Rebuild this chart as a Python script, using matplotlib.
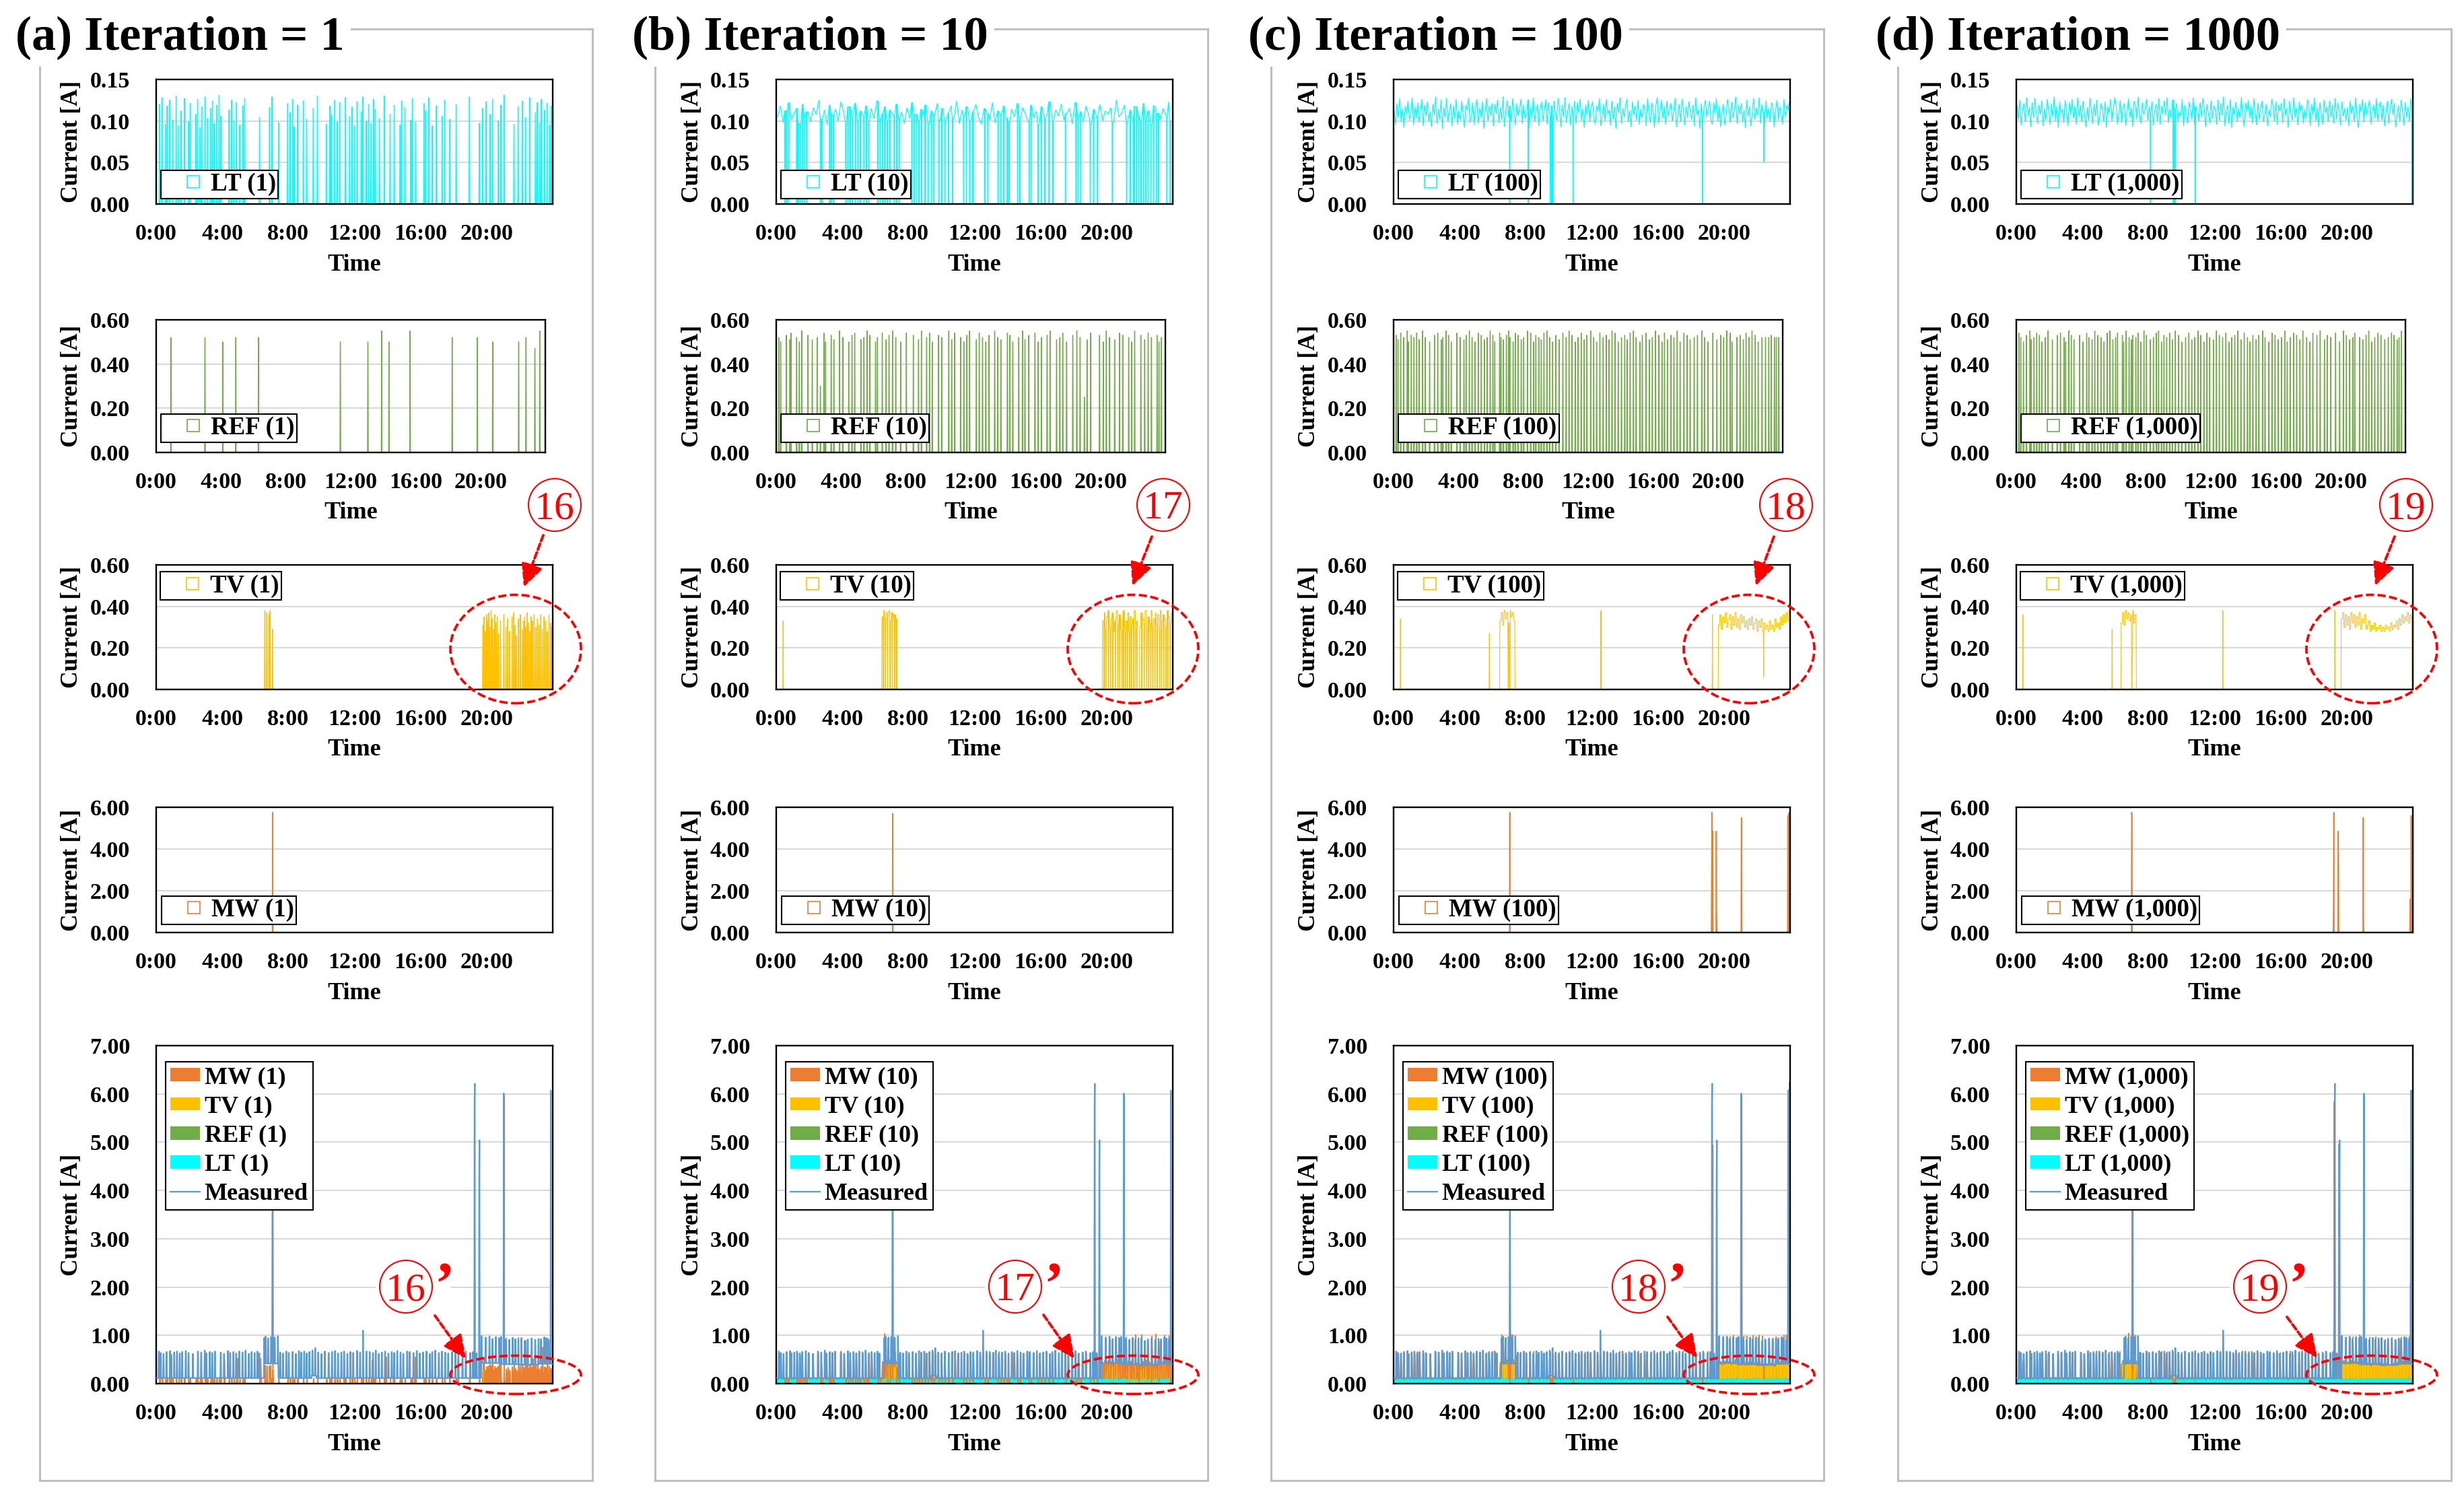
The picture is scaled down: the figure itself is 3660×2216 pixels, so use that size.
import numpy as np
import matplotlib
matplotlib.use("Agg")
import matplotlib.pyplot as plt
from matplotlib.patches import Rectangle, Ellipse, Patch, FancyArrowPatch
from matplotlib.lines import Line2D

plt.rcParams['font.family'] = ['Liberation Serif', 'DejaVu Serif']
plt.rcParams['font.weight'] = 'bold'

W, H = 3660, 2216

C_LT = '#00FFFF'
C_REF = '#70AD47'
C_TV = '#FFC000'
C_MW = '#ED7D31'
C_MEAS = '#5B9BD5'

# ---------------- data ----------------
# times are minutes of the day, currents in mA (LT) or 10 mA units (REF, TV, MW)
titles = ['(a) Iteration = 1', '(b) Iteration = 10', '(c) Iteration = 100', '(d) Iteration = 1000']
iters = ['1', '10', '100', '1,000']
marks = ['16', '17', '18', '19']
time_ticks = [0, 4, 8, 12, 16, 20]
time_labels = ['0:00', '4:00', '8:00', '12:00', '16:00', '20:00']

# LT (1): short on-pulses
lt1_min = [12, 21, 33, 39, 48, 60, 72, 81, 90, 102, 117, 123, 144, 150, 159, 165, 177, 186, 198, 204,
           210, 219, 228, 234, 264, 273, 282, 291, 303, 315, 321, 375, 411, 420, 444, 477, 486, 495, 501, 513,
           534, 546, 570, 585, 618, 630, 636, 648, 657, 666, 687, 702, 711, 720, 729, 744, 750, 762, 771, 780,
           789, 795, 810, 828, 849, 864, 885, 891, 903, 924, 930, 942, 972, 978, 990, 1002, 1017, 1038, 1047, 1065,
           1089, 1137, 1173, 1185, 1197, 1212, 1221, 1242, 1251, 1263, 1299, 1314, 1329, 1341, 1356, 1377, 1383, 1392, 1398, 1410,
           1419, 1428, 1434]
lt1_mA = [120, 128, 96, 118, 125, 101, 130, 94, 112, 127, 99, 121, 108, 126, 92, 117, 129, 103, 115, 124,
          97, 119, 131, 106, 113, 125, 100, 122, 95, 118, 127, 104, 116, 129, 98, 121, 110, 126, 93, 119,
          124, 102, 115, 130, 96, 118, 107, 125, 99, 122, 128, 105, 117, 94, 123, 111, 129, 100, 120, 97,
          126, 114, 103, 130, 108, 119, 95, 124, 116, 101, 127, 99, 121, 112, 128, 94, 118, 106, 125, 102,
          120, 129, 97, 115, 123, 108, 126, 100, 119, 131, 96, 117, 124, 104, 128, 110, 122, 98, 126, 113,
          121, 95, 118]

# LT (10): 10-minute levels (mA) and drop-out minutes
lt10_lvl = [105, 118, 98, 112, 122, 101, 109, 115, 97, 120, 104, 111,
            99, 116, 108, 125, 102, 113, 96, 119, 107, 114, 100, 123,
            110, 97, 117, 104, 121, 99, 112, 106, 118, 95, 115, 103,
            124, 100, 109, 117, 98, 113, 106, 120, 101, 111, 97, 116,
            103, 122, 108, 99, 114, 105, 119, 96, 112, 107, 121, 100,
            115, 98, 110, 118, 102, 124, 97, 113, 106, 117, 99, 111,
            120, 104, 96, 115, 109, 101, 122, 98, 112, 107, 118, 103,
            97, 114, 105, 121, 100, 116, 108, 99, 119, 104, 112, 95,
            117, 102, 110, 123, 98, 113, 106, 120, 101, 109, 115, 97,
            122, 104, 111, 99, 118, 107, 96, 114, 103, 120, 100, 112,
            108, 116, 98, 125, 105, 110, 119, 97, 113, 102, 117, 106,
            99, 121, 104, 112, 96, 118, 109, 101, 115, 107, 123, 100]
lt10_dips = [31, 38, 45, 74, 80, 88, 95, 103, 110, 160, 166, 193, 200, 207, 252, 260, 268, 276, 287, 296,
             305, 318, 327, 335, 368, 377, 386, 394, 403, 412, 428, 437, 446, 492, 500, 509, 518, 527, 540, 551,
             563, 572, 590, 601, 612, 625, 640, 680, 690, 702, 714, 757, 768, 805, 815, 826, 838, 845, 876, 884,
             918, 925, 950, 962, 975, 990, 1004, 1050, 1088, 1096, 1105, 1140, 1152, 1165, 1220, 1272, 1285, 1296,
             1300, 1308, 1316, 1324, 1333, 1341, 1350, 1360, 1370, 1380, 1388, 1418, 1430]

# LT (100/1000): 5-minute levels (mA) and drop-outs (start, minutes, mA)
lt100_lvl = [112, 96, 121, 104, 127, 99, 115, 92, 118, 108, 124, 101,
             109, 128, 95, 117, 103, 122, 98, 113, 126, 94, 119, 106,
             123, 100, 111, 93, 120, 107, 129, 97, 114, 102, 125, 91,
             116, 105, 127, 99, 110, 121, 94, 118, 103, 126, 96, 112,
             101, 124, 108, 92, 119, 113, 128, 98, 106, 122, 95, 117,
             126, 97, 115, 104, 123, 91, 111, 127, 100, 118, 107, 121,
             94, 120, 109, 125, 98, 116, 102, 129, 93, 112, 124, 105,
             118, 99, 127, 110, 95, 121, 106, 114, 126, 97, 119, 103,
             108, 125, 92, 117, 104, 128, 99, 111, 120, 94, 115, 123,
             100, 113, 126, 96, 122, 107, 118, 91, 124, 109, 101, 127,
             115, 93, 119, 105, 128, 98, 112, 121, 95, 117, 106, 124,
             97, 122, 110, 126, 101, 114, 92, 119, 108, 125, 99, 116,
             123, 104, 96, 118, 111, 127, 94, 106, 120, 100, 126, 109,
             113, 95, 124, 102, 117, 91, 121, 110, 128, 97, 115, 105,
             119, 126, 99, 112, 93, 123, 107, 118, 101, 125, 96, 114,
             104, 120, 116, 94, 127, 109, 98, 122, 113, 92, 119, 128,
             97, 111, 125, 103, 118, 96, 124, 106, 115, 121, 100, 112,
             127, 93, 108, 120, 99, 126, 114, 95, 117, 104, 123, 110,
             102, 119, 94, 128, 107, 113, 91, 121, 98, 116, 125, 105,
             114, 124, 101, 96, 122, 109, 127, 100, 118, 93, 111, 120,
             95, 107, 126, 115, 98, 123, 104, 112, 129, 97, 119, 108,
             121, 99, 113, 92, 125, 106, 117, 94, 110, 127, 102, 116,
             106, 128, 97, 120, 111, 93, 124, 103, 115, 99, 122, 118,
             92, 114, 125, 101, 117, 108, 96, 126, 105, 119, 112, 123]
lt100_dips = [(421, 2, 0), (489, 1, 0), (569, 3, 0), (574, 2, 0), (579, 1, 0), (652, 1, 0),
              (1122, 1, 0), (1344, 1, 50), (1437, 3, 0)]
lt1000_lvl = [118, 102, 125, 95, 113, 121, 99, 128, 106, 116, 93, 122,
              104, 127, 110, 97, 119, 108, 124, 94, 115, 101, 126, 112,
              96, 120, 105, 129, 100, 117, 92, 123, 109, 114, 98, 125,
              111, 94, 122, 107, 126, 103, 118, 96, 128, 105, 119, 99,
              124, 109, 93, 116, 101, 127, 112, 97, 120, 106, 125, 95,
              103, 121, 114, 99, 123, 92, 117, 110, 126, 100, 113, 128,
              119, 96, 107, 125, 98, 115, 121, 94, 111, 127, 104, 116,
              93, 124, 118, 102, 129, 106, 97, 122, 108, 114, 126, 101,
              117, 105, 123, 95, 112, 120, 100, 127, 96, 118, 109, 124,
              107, 128, 98, 114, 103, 125, 91, 116, 121, 99, 112, 106,
              126, 94, 119, 108, 97, 123, 113, 102, 128, 95, 117, 110,
              100, 122, 105, 127, 116, 93, 120, 109, 98, 124, 103, 118,
              114, 96, 125, 101, 121, 107, 129, 94, 112, 119, 97, 126,
              92, 117, 108, 123, 99, 115, 104, 128, 106, 93, 122, 111,
              125, 103, 118, 97, 127, 110, 95, 121, 102, 116, 124, 99,
              108, 120, 94, 113, 105, 126, 117, 100, 123, 96, 119, 112,
              121, 98, 127, 106, 115, 92, 124, 109, 101, 128, 104, 116,
              95, 123, 111, 119, 97, 114, 103, 126, 118, 94, 120, 107,
              128, 100, 116, 93, 122, 108, 96, 125, 110, 117, 99, 124,
              105, 119, 97, 127, 102, 121, 113, 95, 123, 106, 115, 101,
              116, 94, 124, 109, 118, 99, 128, 104, 92, 120, 111, 126,
              98, 122, 107, 115, 125, 96, 112, 119, 103, 127, 100, 117,
              123, 101, 119, 94, 110, 124, 97, 114, 126, 108, 121, 93,
              106, 118, 100, 125, 113, 95, 122, 104, 117, 99, 127, 111]
lt1000_dips = [(487, 1, 0), (569, 2, 0), (573, 3, 0), (578, 1, 0), (650, 1, 0), (1437, 3, 0)]

# REF (1)
ref1_min = [54, 180, 246, 294, 378, 681, 783, 834, 861, 939, 1095, 1188, 1245, 1341, 1368, 1401, 1419]
ref1_h = [52, 52, 50, 52, 52, 50, 50, 55, 50, 55, 52, 52, 50, 50, 52, 47, 55]

# fridge cycle starts (shared by REF 10/100/1000 and the measured current)
fridge_min = [9, 16, 26, 37, 50, 54, 65, 75, 85, 94, 107, 117, 133, 151, 163, 176, 182, 194, 203, 213,
              234, 246, 260, 268, 280, 290, 301, 313, 324, 336, 346, 357, 367, 374, 392, 397, 406, 417, 425, 430,
              442, 450, 460, 472, 481, 495, 507, 518, 526, 537, 546, 556, 567, 577, 588, 600, 612, 626, 638, 649,
              660, 672, 682, 694, 705, 715, 729, 740, 751, 763, 775, 787, 797, 808, 819, 831, 843, 855, 864, 875,
              887, 897, 911, 920, 934, 946, 957, 969, 981, 993, 1002, 1013, 1026, 1037, 1049, 1060, 1074, 1086, 1097, 1112,
              1124, 1140, 1150, 1163, 1181, 1196, 1210, 1221, 1233, 1245, 1252, 1270, 1282, 1294, 1304, 1315, 1326, 1338, 1349, 1363,
              1376, 1388, 1397, 1409, 1416, 1425]
ref10_h = [52, 50, 0, 53, 51, 54, 0, 52, 50, 55, 0, 53, 51, 52, 30, 54, 50, 0, 53, 51,
           55, 52, 0, 50, 53, 54, 0, 51, 52, 55, 53, 0, 50, 52, 54, 0, 51, 53, 0, 55,
           52, 0, 50, 0, 54, 0, 53, 0, 51, 55, 0, 52, 54, 50, 0, 53, 52, 0, 55, 51,
           54, 0, 52, 50, 53, 55, 0, 51, 54, 52, 50, 53, 0, 55, 52, 51, 0, 54, 53, 50,
           0, 52, 55, 51, 53, 0, 54, 50, 52, 0, 53, 55, 0, 51, 52, 54, 50, 0, 53, 55,
           52, 25, 51, 54, 0, 53, 50, 55, 52, 0, 51, 54, 53, 0, 52, 50, 55, 0, 53, 51,
           54, 52, 0, 53, 50, 52]
ref100_h = [53, 51, 54, 52, 55, 50, 53, 52, 54, 51, 55, 52, 50, 53, 54, 51, 52, 55, 53, 50,
            54, 52, 51, 53, 55, 52, 50, 54, 53, 51, 52, 55, 53, 50, 54, 52, 51, 53, 55, 52,
            50, 54, 53, 51, 52, 55, 54, 50, 53, 52, 51, 54, 55, 52, 50, 53, 51, 54, 52, 55,
            53, 50, 52, 54, 51, 53, 55, 52, 50, 54, 52, 53, 51, 55, 54, 50, 52, 53, 51, 54,
            55, 52, 50, 53, 54, 51, 52, 55, 53, 50, 54, 51, 53, 52, 55, 50, 54, 53, 51, 52,
            53, 55, 52, 50, 54, 51, 53, 52, 55, 54, 50, 52, 53, 51, 54, 52, 55, 53, 50, 52,
            52, 52, 53, 52, 52, 52]
ref1000_h = [54, 52, 50, 53, 55, 51, 52, 54, 53, 50, 52, 55, 51, 53, 54, 52, 50, 55, 53, 51,
             53, 50, 54, 52, 51, 55, 53, 52, 50, 54, 55, 51, 52, 54, 53, 50, 55, 52, 51, 53,
             52, 54, 50, 55, 53, 51, 52, 54, 55, 50, 53, 52, 54, 51, 55, 53, 50, 52, 54, 51,
             52, 55, 53, 50, 54, 52, 51, 55, 53, 52, 54, 50, 52, 53, 55, 51, 54, 52, 50, 53,
             51, 53, 55, 52, 50, 54, 53, 51, 52, 55, 50, 52, 54, 53, 51, 55, 52, 50, 54, 53,
             55, 51, 53, 52, 54, 50, 55, 53, 51, 52, 54, 52, 51, 53, 55, 50, 52, 54, 53, 51,
             52, 54, 53, 51, 52, 55]

# TV (1): short pulses
tv1_min = [394, 401, 409, 413, 422,
           1186, 1190, 1195, 1200, 1203, 1207, 1211, 1216, 1220, 1225, 1229, 1233, 1238, 1243, 1250, 1262,
           1270, 1276, 1283, 1292, 1298, 1303, 1308, 1315, 1322, 1329, 1334, 1338, 1342, 1347, 1351, 1356,
           1361, 1366, 1372, 1378, 1384, 1390, 1396, 1402, 1408, 1414, 1420, 1426, 1432, 1437]
tv1_h = [38, 37, 36, 38, 29,
         31, 35, 28, 36, 33, 37, 30, 38, 34, 29, 36, 32, 35, 27, 33, 36, 30, 34, 28, 35,
         37, 31, 26, 34, 36, 29, 33, 35, 30, 37, 32, 28, 35, 33, 36, 30, 34, 31, 36, 29,
         35, 33, 28, 36, 32, 30]

# TV (10/100/1000): single pulses, 5-minute level blocks, drop-outs (start, minutes, level)
tv10_spk = [(25, 33)]
tv10_blocks = [(384, [35, 38, 34, 37, 36, 38, 33, 37, 35, 36, 34]),
               (1185, [33, 37, 29, 35, 38, 30, 34, 37, 28, 33, 38, 31, 36, 29, 34, 38, 30, 33, 37, 28,
                       35, 31, 34, 38, 29, 33, 36, 30, 37, 34, 31, 38, 29, 35, 32, 38, 30, 34, 37, 31,
                       36, 29, 38, 33, 36, 34, 30, 38, 35, 32, 37])]
tv10_drops = [(388, 2, 0), (396, 2, 0), (404, 2, 0), (413, 2, 0), (421, 2, 0), (430, 2, 0), (436, 2, 0),
              (1190, 2, 0), (1197, 2, 0), (1206, 2, 0), (1214, 2, 0), (1222, 2, 0), (1231, 2, 0), (1240, 2, 0),
              (1247, 2, 0), (1255, 2, 0), (1261, 2, 0), (1268, 2, 0), (1275, 2, 0), (1283, 2, 0), (1290, 2, 0),
              (1298, 2, 0), (1306, 2, 0), (1312, 8, 0), (1327, 2, 0), (1336, 2, 0), (1345, 2, 0), (1352, 2, 0),
              (1360, 2, 0), (1367, 2, 0), (1375, 2, 0), (1383, 2, 0), (1392, 2, 0), (1399, 2, 0), (1407, 2, 0),
              (1415, 2, 0), (1422, 2, 0), (1430, 2, 0)]
tv100_spk = [(25, 34), (348, 27), (753, 38), (1158, 36)]
tv100_blocks = [(386, [33, 37, 31, 38, 34, 37, 32, 38, 35, 37, 33]),
                (1180, [31, 36, 29, 35, 32, 37, 30, 34, 36, 29, 35, 31, 37, 30, 34, 29, 36, 32, 35, 30,
                        33, 29, 34, 31, 35, 29, 32, 34, 28, 33, 30, 34, 28, 32, 29, 31, 28, 33, 29, 31,
                        28, 34, 30, 32, 29, 35, 31, 36, 32, 37, 33, 38])]
tv100_drops = [(416, 2, 0), (421, 3, 0), (1344, 1, 6)]
tv1000_spk = [(24, 36), (348, 29), (750, 38), (1157, 38)]
tv1000_blocks = [(381, [32, 37, 31, 38, 34, 37, 33, 36, 38, 32, 36]),
                 (1180, [34, 37, 30, 36, 31, 35, 29, 37, 32, 36, 30, 35, 31, 37, 29, 34, 32, 36, 29, 31,
                         33, 28, 31, 29, 32, 28, 30, 29, 31, 28, 30, 28, 31, 29, 30, 28, 32, 29, 31, 30,
                         33, 29, 34, 31, 36, 32, 35, 33, 37, 32, 36, 34])]
tv1000_drops = [(419, 2, 0), (421, 2, 15), (1438, 2, 0)]

# MW: (minute, 10 mA)
mw1 = [(423, 575)]
mw10 = [(423, 570)]
mw100 = [(422, 575), (1155, 310), (1156, 575), (1159, 485), (1172, 485), (1173, 120),
         (1263, 550), (1264, 545), (1432, 560), (1436, 575)]
mw1000 = [(419, 575), (420, 560), (1152, 130), (1153, 575), (1169, 485), (1170, 330),
          (1260, 550), (1261, 40), (1430, 160), (1434, 560)]

# measured: base level segments (start, end, mA), fridge spike amplitudes (10 mA), large peaks (minute, mA)
meas_base = [(0, 392, 115), (392, 443, 415), (443, 565, 115), (565, 582, 165), (582, 1181, 115),
             (1181, 1250, 425), (1250, 1320, 400), (1320, 1390, 385), (1390, 1440, 410)]
meas_amp = [55, 52, 50, 54, 56, 48, 53, 55, 51, 54, 56, 52, 50, 55, 53, 57, 51, 54, 52, 55,
            53, 50, 56, 52, 54, 51, 55, 53, 57, 50, 54, 52, 55, 51, 53, 56, 52, 55, 50, 54,
            57, 53, 51, 55, 52, 54, 50, 56, 53, 55, 51, 54, 52, 57, 53, 50, 55, 52, 54, 56,
            51, 53, 55, 50, 54, 52, 56, 53, 51, 55, 54, 52, 57, 50, 53, 55, 51, 54, 52, 56,
            53, 50, 55, 54, 52, 56, 51, 53, 55, 50, 54, 57, 52, 55, 53, 51, 54, 56, 50, 53,
            55, 52, 54, 51, 56, 53, 55, 50, 54, 52, 57, 53, 51, 55, 52, 54, 56, 50, 53, 55,
            52, 54, 51, 55, 53, 50]
meas_big = [(422, 3500), (423, 3720), (751, 1100), (1156, 5770), (1157, 6210), (1173, 4200),
            (1174, 5040), (1262, 6010), (1263, 5950), (1433, 6070)]

# ---------------- series on a 1-minute grid ----------------
N = 1440
t = np.arange(N) / 60.0


def pulses(times, heights, unit, width):
    s = np.zeros(N)
    for m, h in zip(times, heights):
        s[m:m + width] = np.maximum(s[m:m + width], h * unit)
    return s


def lt_series(levels, dips):
    slot = N // len(levels)
    s = np.repeat(np.array(levels, float), slot) * 0.001
    s = np.pad(s, (0, max(0, N - len(s))), mode='edge')[:N]
    for m, d, v in dips:
        s[m:m + d] = v * 0.001
    return s


def lt_points(levels, dips):
    # level samples at slot centres plus sharp drop-outs, for the single-series panels
    slot = N // len(levels)
    xs = [i * slot + slot / 2 for i in range(len(levels))]
    ys = list(levels)
    for m, d, v in dips:
        lv = levels[min(m // slot, len(levels) - 1)]
        xs += [m - 0.4, m, m + d - 0.6, m + d - 0.2]
        ys += [lv, v, v, lv]
    order = np.argsort(xs, kind='stable')
    return np.array(xs, float)[order] / 60.0, np.array(ys, float)[order] * 0.001


def tv_series(spk, blocks, drops):
    s = np.zeros(N)
    for m, h in spk:
        s[m] = h * 0.01
    for start, lv in blocks:
        seg = np.repeat(np.array(lv, float), 5) * 0.01
        end = min(N, start + len(seg))
        s[start:end] = seg[:end - start]
    for m, d, v in drops:
        s[m:m + d] = v * 0.01
    return s


def mw_series(pts):
    s = np.zeros(N)
    for m, v in pts:
        s[m] = v * 0.01
    return s


lt10_d = [(m, 2, 0) for m in lt10_dips]
LT = [pulses(lt1_min, lt1_mA, 0.001, 2),
      lt_series(lt10_lvl, lt10_d),
      lt_series(lt100_lvl, lt100_dips),
      lt_series(lt1000_lvl, lt1000_dips)]
LT_plot = [(t, LT[0]),
           lt_points(lt10_lvl, lt10_d),
           lt_points(lt100_lvl, lt100_dips),
           lt_points(lt1000_lvl, lt1000_dips)]
REF = [pulses(ref1_min, ref1_h, 0.01, 2),
       pulses(fridge_min, ref10_h, 0.01, 2),
       pulses(fridge_min, ref100_h, 0.01, 2),
       pulses(fridge_min, ref1000_h, 0.01, 2)]
TV = [pulses(tv1_min, tv1_h, 0.01, 2),
      tv_series(tv10_spk, tv10_blocks, tv10_drops),
      tv_series(tv100_spk, tv100_blocks, tv100_drops),
      tv_series(tv1000_spk, tv1000_blocks, tv1000_drops)]
MW = [mw_series(mw1), mw_series(mw10), mw_series(mw100), mw_series(mw1000)]

meas = np.zeros(N)
for a, b, v in meas_base:
    meas[a:b] = v * 0.001
meas = meas + pulses(fridge_min, meas_amp, 0.01, 2)
for m, v in meas_big:
    meas[m] = v * 0.001

# ---------------- layout (pixels, origin top-left) ----------------
col_left = [232, 1153, 2070, 2995]
frame_x = [(59, 880), (973, 1794), (1888, 2709), (2819, 3641)]
title_x = [23, 939, 1854, 2786]
rows = {'LT': (118, 303), 'REF': (475, 672), 'TV': (839, 1024), 'MW': (1199, 1385), 'ALL': (1553, 2055)}
circ_top = [(824, 750), (1728, 750), (2653, 750), (3574, 750)]
arr_top = [((807, 795), (778, 872)), ((1711, 797), (1682, 870)),
           ((2635, 797), (2608, 870)), ((3557, 797), (3528, 870))]
ell_top = [766, 1683, 2598, 3523]
circ_bot = [(603, 1911), (1508, 1911), (2434, 1911), (3357, 1911)]
arr_bot = [((646, 1954), (692, 2018)), ((1550, 1953), (1596, 2018)),
           ((2477, 1956), (2521, 2017)), ((3397, 1956), (3442, 2017))]

fig = plt.figure(figsize=(W / 100, H / 100), dpi=100)


def fx(x):
    return x / W


def fy(y):
    return 1 - y / H


def make_axes(left, top, bottom, width, ymax, ystep):
    ax = fig.add_axes([fx(left), fy(bottom), width / W, (bottom - top) / H])
    ax.set_xlim(0, 24)
    ax.set_ylim(0, ymax)
    ax.set_xticks(time_ticks)
    ax.set_xticklabels(time_labels)
    ax.set_yticks(np.arange(0, ymax + ystep / 2, ystep))
    ax.yaxis.set_major_formatter('{x:.2f}')
    ax.tick_params(length=0, labelsize=24.5)
    ax.tick_params(axis='x', pad=21)
    ax.tick_params(axis='y', pad=28)
    ax.grid(axis='y', color='#D9D9D9', lw=1.5)
    ax.set_axisbelow(True)
    for sp in ax.spines.values():
        sp.set_linewidth(1.7)
        sp.set_color('black')
    fig.text(fx(left + width / 2), fy(bottom + 90), 'Time', ha='center', va='center', fontsize=26)
    fig.text(fx(left - 125), fy((top + bottom) / 2), 'Current [A]', rotation=90,
             ha='center', va='center', fontsize=25.5)
    return ax


def box_legend(ax, color, label, loc, anchor):
    h = Line2D([], [], ls='none', marker='s', ms=12.5, mfc='white', mec=color, mew=1.2)
    leg = ax.legend([h], [label], loc=loc, bbox_to_anchor=anchor, borderaxespad=0, fontsize=26.5,
                    frameon=True, fancybox=False, edgecolor='black', framealpha=1,
                    handlelength=2.4, handletextpad=-0.5, borderpad=0.1)
    leg.get_frame().set_linewidth(1.5)


def circled(cx, cy, text, prime):
    if prime:
        fig.add_artist(Rectangle((fx(cx - 45), fy(cy + 42)), 111 / W, 84 / H, transform=fig.transFigure,
                                 fc='white', ec='none', zorder=4))
    fig.add_artist(Ellipse((fx(cx), fy(cy)), 78 / W, 78 / H, transform=fig.transFigure,
                           fill=False, ec='red', lw=1.5, zorder=6))
    fig.text(fx(cx), fy(cy + 20), text, ha='center', va='baseline', color='red',
             fontsize=43, fontweight='normal', zorder=6)
    if prime:
        fig.text(fx(cx + 42), fy(cy + 2), '\u2019', ha='left', va='center', color='red',
                 fontsize=64, fontweight='bold', zorder=6)


def arrow(p0, p1):
    fig.add_artist(FancyArrowPatch((fx(p0[0]), fy(p0[1])), (fx(p1[0]), fy(p1[1])),
                                   transform=fig.transFigure, arrowstyle='-|>,head_length=0.95,head_width=0.45',
                                   mutation_scale=22, color='red', lw=2.8, linestyle=(0, (2.4, 1.1)),
                                   shrinkA=0, shrinkB=0, zorder=6))


def dashed_ellipse(cx, cy, w, h):
    fig.add_artist(Ellipse((fx(cx), fy(cy)), w / W, h / H, transform=fig.transFigure,
                           fill=False, ec='red', lw=2.7, ls=(0, (3.2, 1.4)), zorder=6))


for c in range(4):
    left = col_left[c]
    it = iters[c]

    # panel frame and title
    x0, x1 = frame_x[c]
    fig.add_artist(Rectangle((fx(x0), fy(2199)), (x1 - x0) / W, (2199 - 43) / H,
                             transform=fig.transFigure, fill=False, ec='#BFBFBF', lw=2.2, zorder=1))
    fig.text(fx(title_x[c]), fy(74), titles[c], fontsize=52, ha='left', va='baseline',
             bbox=dict(fc='white', ec='none', pad=7), zorder=5)

    # LT
    top, bot = rows['LT']
    ax = make_axes(left, top, bot, 589, 0.15, 0.05)
    ax.plot(LT_plot[c][0], LT_plot[c][1], color=C_LT, lw=0.9)
    box_legend(ax, C_LT, f'LT ({it})', 'lower left', (7 / 589, 8 / 185))

    # REF
    top, bot = rows['REF']
    ax = make_axes(left, top, bot, 578, 0.6, 0.2)
    ax.plot(t, REF[c], color=C_REF, lw=0.9)
    box_legend(ax, C_REF, f'REF ({it})', 'lower left', (7 / 578, 15 / 197))

    # TV
    top, bot = rows['TV']
    ax = make_axes(left, top, bot, 589, 0.6, 0.2)
    ax.plot(t, TV[c], color=C_TV, lw=0.8)
    box_legend(ax, C_TV, f'TV ({it})', 'upper left', (6 / 589, 1 - 10 / 185))

    # MW
    top, bot = rows['MW']
    ax = make_axes(left, top, bot, 589, 6.0, 2.0)
    ax.plot(t, MW[c], color=C_MW, lw=1.2)
    box_legend(ax, C_MW, f'MW ({it})', 'lower left', (8 / 589, 12 / 186))

    # stacked estimate vs measured
    top, bot = rows['ALL']
    ax = make_axes(left, top, bot, 589, 7.0, 1.0)
    polys = ax.stackplot(t, LT[c], REF[c], TV[c], MW[c], colors=[C_LT, C_REF, C_TV, C_MW])
    for p, col in zip(polys, [C_LT, C_REF, C_TV, C_MW]):
        p.set_edgecolor(col)
        p.set_linewidth(0.5)
    polys[3].set_linewidth(0.9)
    ax.plot(t, meas, color=C_MEAS, lw=1.6, zorder=3)
    handles = [Patch(fc=C_MW, ec='none'), Patch(fc=C_TV, ec='none'), Patch(fc=C_REF, ec='none'),
               Patch(fc=C_LT, ec='none'), Line2D([], [], color=C_MEAS, lw=1.6)]
    labels = [f'MW ({it})', f'TV ({it})', f'REF ({it})', f'LT ({it})', 'Measured']
    leg = ax.legend(handles, labels, loc='upper left', bbox_to_anchor=(14 / 589, 1 - 24 / 502),
                    borderaxespad=0, fontsize=26, frameon=True, fancybox=False, edgecolor='black',
                    framealpha=1, handlelength=1.2, handleheight=0.47, labelspacing=0.28,
                    borderpad=0.2, handletextpad=0.2)
    leg.get_frame().set_linewidth(1.5)

    # annotations
    circled(circ_top[c][0], circ_top[c][1], marks[c], False)
    arrow(*arr_top[c])
    dashed_ellipse(ell_top[c], 964, 194, 161)
    circled(circ_bot[c][0], circ_bot[c][1], marks[c], True)
    arrow(*arr_bot[c])
    dashed_ellipse(ell_top[c], 2042, 194, 57)

fig.savefig('out.png', dpi=100, facecolor='white')
